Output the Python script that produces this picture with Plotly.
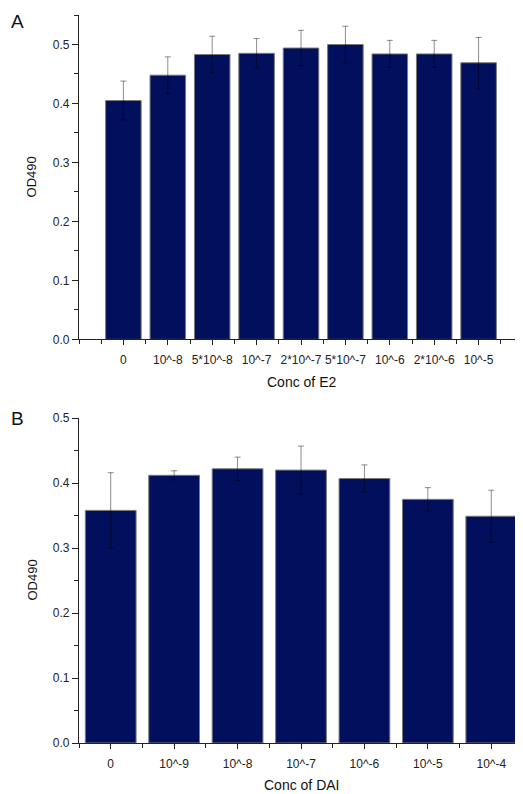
import plotly.graph_objects as go
from plotly.subplots import make_subplots

# Panel A data
labels_a = ["0", "10^-8", "5*10^-8", "10^-7", "2*10^-7", "5*10^-7", "10^-6", "2*10^-6", "10^-5"]
values_a = [0.405, 0.448, 0.483, 0.485, 0.494, 0.500, 0.484, 0.484, 0.469]
errors_a = [0.033, 0.031, 0.031, 0.025, 0.030, 0.031, 0.023, 0.023, 0.043]

# Panel B data
labels_b = ["0", "10^-9", "10^-8", "10^-7", "10^-6", "10^-5", "10^-4"]
values_b = [0.358, 0.412, 0.422, 0.420, 0.407, 0.375, 0.349]
errors_b = [0.058, 0.007, 0.018, 0.037, 0.021, 0.018, 0.040]

BAR = "#020f5c"
EDGE = "#7a7a7a"
ERR = "rgba(0,0,0,0.45)"
FONT = "Liberation Sans, Arial, sans-serif"

# page has an 8px body margin; compensate so window coordinates match
OFF = 8
W, H = 523 - OFF, 794 - OFF
ml, mr, mt, mb = 79 - OFF, 0, 7 - OFF if 7 - OFF > 0 else 0, 794 - 743
pw, ph = W - ml - mr, H - mt - mb

def px(xw): return (xw - OFF - ml) / pw
def py(yw): return (H - mb - (yw - OFF)) / ph

fig = make_subplots(rows=2, cols=1)
fig.update_layout(
    xaxis=dict(domain=[0, 1], anchor="y"),
    yaxis=dict(domain=[py(335.5), 1.0], anchor="x"),
    xaxis2=dict(domain=[0, 1], anchor="y2"),
    yaxis2=dict(domain=[0.0, py(415)], anchor="x2"),
)

fig.add_trace(go.Bar(
    x=list(range(len(labels_a))), y=values_a, width=0.8,
    marker=dict(color=BAR, line=dict(color=EDGE, width=1)),
    error_y=dict(type="data", array=errors_a, color=ERR, thickness=1, width=3),
    showlegend=False), row=1, col=1)

fig.add_trace(go.Bar(
    x=list(range(len(labels_b))), y=values_b, width=0.8,
    marker=dict(color=BAR, line=dict(color=EDGE, width=1)),
    error_y=dict(type="data", array=errors_b, color=ERR, thickness=1, width=3),
    showlegend=False), row=2, col=1)

axis_common = dict(showline=True, linecolor="#222", linewidth=1.2, showgrid=False,
                   zeroline=False, ticks="outside", tickcolor="#222", ticklen=6, tickwidth=1.2,
                   tickfont=dict(family=FONT, size=12, color="#222"))

fig.update_xaxes(axis_common)
fig.update_yaxes(axis_common)

minor_x = dict(dtick=0.5, tick0=0, ticks="outside", ticklen=4, tickcolor="#222", tickwidth=1.2)
minor_y = dict(dtick=0.05, ticks="outside", ticklen=4, tickcolor="#222", tickwidth=1.2)

fig.update_xaxes(row=1, col=1, range=[-1, 9], tickmode="array", ticklen=5, ticklabelstandoff=4,
                 tickvals=list(range(len(labels_a))), ticktext=labels_a, minor=minor_x)
fig.update_xaxes(row=2, col=1, range=[-0.5, 6.5], tickmode="array", ticklen=5, ticklabelstandoff=4,
                 tickvals=list(range(len(labels_b))), ticktext=labels_b, minor=minor_x)

fig.update_yaxes(row=1, col=1, range=[0, 0.55], dtick=0.1, tick0=0, tickformat=".1f", minor=minor_y)
fig.update_yaxes(row=2, col=1, range=[0, 0.5], dtick=0.1, tick0=0, tickformat=".1f", minor=minor_y)

ann = []
def txt(x, y, s, size, angle=0):
    ann.append(dict(x=px(x), y=py(y), xref="paper", yref="paper", text=s, showarrow=False,
                    textangle=angle, font=dict(family=FONT, size=size, color="#111"),
                    xanchor="center", yanchor="middle"))

txt(301, 379, "Conc of E2", 14)
txt(301, 785, "Conc of DAI", 14)
txt(31, 172, "OD490", 13, -90)
txt(33, 579, "OD490", 13, -90)
txt(17, 15, "A", 19)
txt(18, 415, "B", 19)

fig.update_layout(width=W, height=H, margin=dict(l=ml, r=mr, t=mt, b=mb),
                  plot_bgcolor="white", paper_bgcolor="white", annotations=ann,
                  bargap=0.2)

fig.write_html("out.html")
